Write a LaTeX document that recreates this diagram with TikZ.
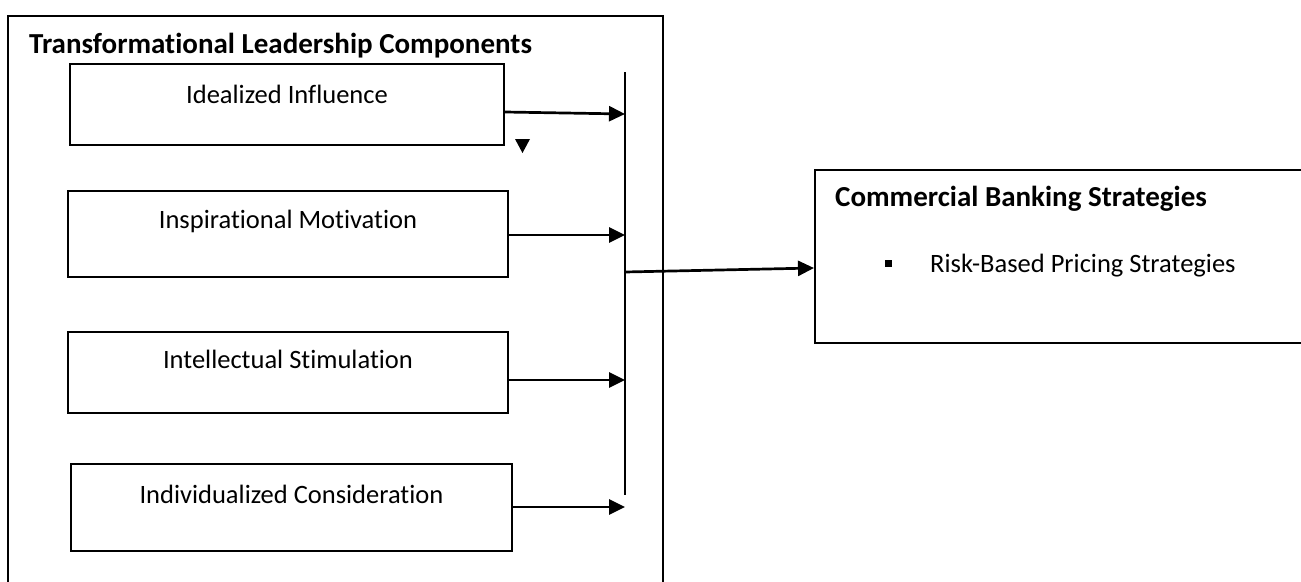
\documentclass[tikz,border=0pt]{standalone}
\usepackage{fontspec}
\setmainfont{Carlito}[Ligatures=CommonOff]
\usetikzlibrary{arrows.meta}
\begin{document}
\begin{tikzpicture}[x=1pt,y=-1pt,
  box/.style={draw, line width=1.8pt, inner sep=0pt},
  lbl/.style={font=\fontsize{26.5}{32}\selectfont, anchor=base, inner sep=0pt},
  lblw/.style={font=\fontsize{26.5}{32}\selectfont, anchor=base west, inner sep=0pt},
  ttl/.style={font=\bfseries\fontsize{29}{35}\selectfont, anchor=base west, inner sep=0pt},
  conn/.style={line width=2.7pt, -{Triangle[length=16pt,width=15pt]}},
  busline/.style={line width=1.8pt},
]
\useasboundingbox (0,0) rectangle (1301,581);
% outer frame
\node[box, minimum width=655pt, minimum height=620pt, anchor=north west] (outer) at (7,15) {};
\node[ttl] (outertitle) at (29,53) {Transformational Leadership Components};
% component boxes
\node[box, minimum width=434pt, minimum height=81pt] (b1) at (287,104.5) {};
\node[box, minimum width=440pt, minimum height=86pt] (b2) at (288,234) {};
\node[box, minimum width=440pt, minimum height=81pt] (b3) at (288,372.5) {};
\node[box, minimum width=441pt, minimum height=87pt] (b4) at (291.5,507.5) {};
\node[lbl] (t1) at (287,103) {Idealized Influence};
\node[lbl] (t2) at (288,228) {Inspirational Motivation};
\node[lbl] (t3) at (288,368) {Intellectual Stimulation};
\node[lbl] (t4) at (291.5,503) {Individualized Consideration};
% bus line
\coordinate (vtop) at (625,72);
\coordinate (vbot) at (625,495);
\draw[busline] (vtop) -- (vbot);
\coordinate (bus1) at (625,114);
\coordinate (bus2) at (625,235);
\coordinate (bus3) at (625,380);
\coordinate (bus4) at (625,507);
\coordinate (busout) at (625,272);
\draw[conn] (b1.east |- 0,112) -- (bus1);
\draw[conn] (b2.east |- 0,235) -- (bus2);
\draw[conn] ([xshift=-1.5pt]b3.east |- 0,380) -- (bus3);
\draw[conn] (b4.east |- 0,507) -- (bus4);
% stray triangle
\fill (515,139) -- (530,139) -- (522.5,153) -- cycle;
% right box
\node[box, minimum width=520pt, minimum height=173pt, anchor=north west] (rb) at (814,169) {};
\node[ttl] (rbtitle) at (835,206) {Commercial Banking Strategies};
\node[fill, minimum size=7pt, inner sep=0pt] (bul) at (888,263) {};
\node[lblw] (rbitem) at (930,272) {Risk-Based Pricing Strategies};
\draw[conn] (busout) -- (rb.west |- 0,268);
\end{tikzpicture}
\end{document}
